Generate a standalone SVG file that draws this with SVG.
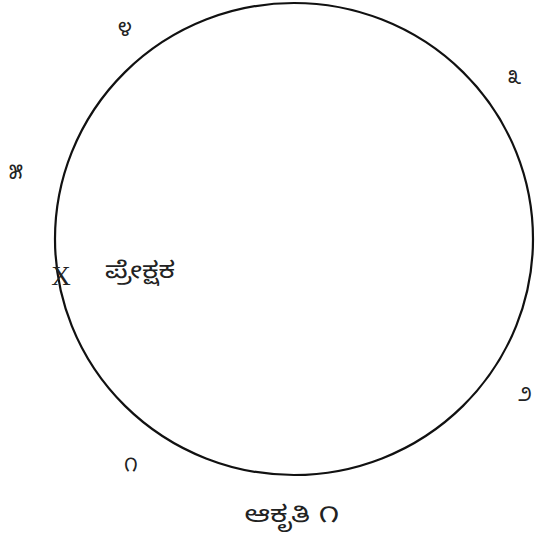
<svg xmlns="http://www.w3.org/2000/svg" width="535" height="538" viewBox="0 0 535 538">
<style>
.k{font-family:"Noto Sans Kannada","Noto Sans","DejaVu Sans",sans-serif;font-size:20px;fill:#222;text-anchor:middle}
.t{font-size:23px}
.x{font-family:"Liberation Serif",serif;font-size:27px;fill:#222;text-anchor:middle}
</style>
<rect width="535" height="538" fill="#fff"/>
<g id="circle"><ellipse cx="294" cy="239" rx="239" ry="236" fill="none" stroke="#111" stroke-width="2.2"/></g>
<g id="labels">
<text class="k" x="125" y="36">೪</text>
<text class="k" x="514" y="84">೩</text>
<text class="k" x="16" y="179">೫</text>
<text class="x" x="61" y="285">X</text>
<text class="k t" x="140" y="278" textLength="70" lengthAdjust="spacingAndGlyphs">ಪ್ರೇಕ್ಷಕ</text>
<text class="k" x="525" y="401">೨</text>
<text class="k" x="131" y="471">೧</text>
<text class="k t" x="292" y="522" textLength="95" lengthAdjust="spacingAndGlyphs">ಆಕೃತಿ ೧</text>
</g>
</svg>
